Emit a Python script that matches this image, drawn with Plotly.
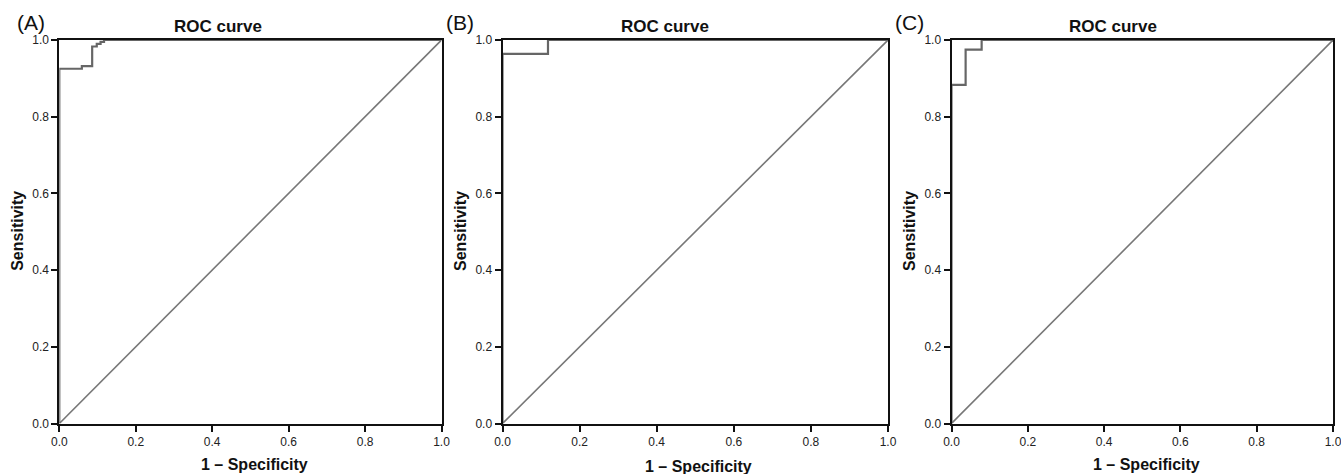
import plotly.graph_objects as go

W, H = 1341, 474

# ROC step points (1 - specificity, sensitivity)
fpr_a = [0.0, 0.0, 0.059, 0.086, 0.098, 0.108, 0.117, 1.0]
sens_a = [0.0, 0.925, 0.932, 0.983, 0.990, 0.995, 1.0, 1.0]

fpr_b = [0.0, 0.0, 0.118, 1.0]
sens_b = [0.0, 0.964, 1.0, 1.0]

fpr_c = [0.0, 0.0, 0.037, 0.079, 1.0]
sens_c = [0.0, 0.883, 0.975, 1.0, 1.0]

ref_line = [0.0, 1.0]
tick_vals = [0.0, 0.2, 0.4, 0.6, 0.8, 1.0]
tick_text = ["0.0", "0.2", "0.4", "0.6", "0.8", "1.0"]
panel_labels = ["(A)", "(B)", "(C)"]
title_text = "ROC curve"
x_title = "1 – Specificity"
y_title = "Sensitivity"

FONT = "Liberation Sans, Arial, sans-serif"

panels = [
    dict(fpr=fpr_a, sens=sens_a, x0=59.3, x1=441.5, tcx=217.5, lab=31, xt=254, yt=464),
    dict(fpr=fpr_b, sens=sens_b, x0=502.5, x1=888.0, tcx=664.5, lab=460, xt=698, yt=466),
    dict(fpr=fpr_c, sens=sens_c, x0=951.5, x1=1333.0, tcx=1112.5, lab=909, xt=1146, yt=464),
]
ytop, ybot = 40.0, 423.5

fig = go.Figure()
annotations = []
layout_axes = {}

for i, p in enumerate(panels):
    n = "" if i == 0 else str(i + 1)
    xa, ya = "x" + n, "y" + n
    fig.add_trace(go.Scatter(x=ref_line, y=ref_line, mode="lines",
                             line=dict(color="#777777", width=1.6),
                             xaxis=xa, yaxis=ya, showlegend=False, hoverinfo="skip"))
    fig.add_trace(go.Scatter(x=p["fpr"], y=p["sens"], mode="lines", line_shape="hv",
                             line=dict(color="#666666", width=2.2),
                             xaxis=xa, yaxis=ya, showlegend=False))
    common = dict(range=[0, 1], tickvals=tick_vals, ticktext=tick_text,
                  showgrid=False, zeroline=False, showline=True, linecolor="#111111",
                  linewidth=2, mirror=True, ticks="outside", ticklen=6, tickwidth=1.5,
                  tickcolor="#111111", tickfont=dict(family=FONT, size=12, color="#222222"),
                  fixedrange=True, automargin=False, ticklabeloverflow="allow")
    layout_axes["xaxis" + n] = dict(common, domain=[p["x0"] / W, p["x1"] / W],
                                    anchor=ya)
    layout_axes["yaxis" + n] = dict(common, domain=[1 - ybot / H, 1 - ytop / H],
                                    anchor=xa)
    annotations += [
        dict(text="<b>%s</b>" % title_text, x=p["tcx"] / W, y=1 - 26 / H,
             font=dict(family=FONT, size=17, color="#111111")),
        dict(text=panel_labels[i], x=p["lab"] / W, y=1 - 23 / H,
             font=dict(family=FONT, size=21, color="#111111")),
        dict(text="<b>%s</b>" % x_title, x=p["xt"] / W, y=1 - p["yt"] / H,
             font=dict(family=FONT, size=16, color="#111111")),
        dict(text="<b>%s</b>" % y_title, x=(p["x0"] - 41.5) / W, y=1 - 231 / H,
             textangle=-90, font=dict(family=FONT, size=16, color="#111111")),
    ]

for a in annotations:
    a.update(xref="paper", yref="paper", showarrow=False,
             xanchor="center", yanchor="middle")

fig.update_layout(width=W, height=H, margin=dict(l=0, r=0, t=0, b=0, autoexpand=False),
                  paper_bgcolor="white", plot_bgcolor="white",
                  annotations=annotations, **layout_axes)

fig.write_html("out.html", config={"displayModeBar": False},
               post_script="document.body.style.margin='0';"
                           "document.body.style.overflow='hidden';")
